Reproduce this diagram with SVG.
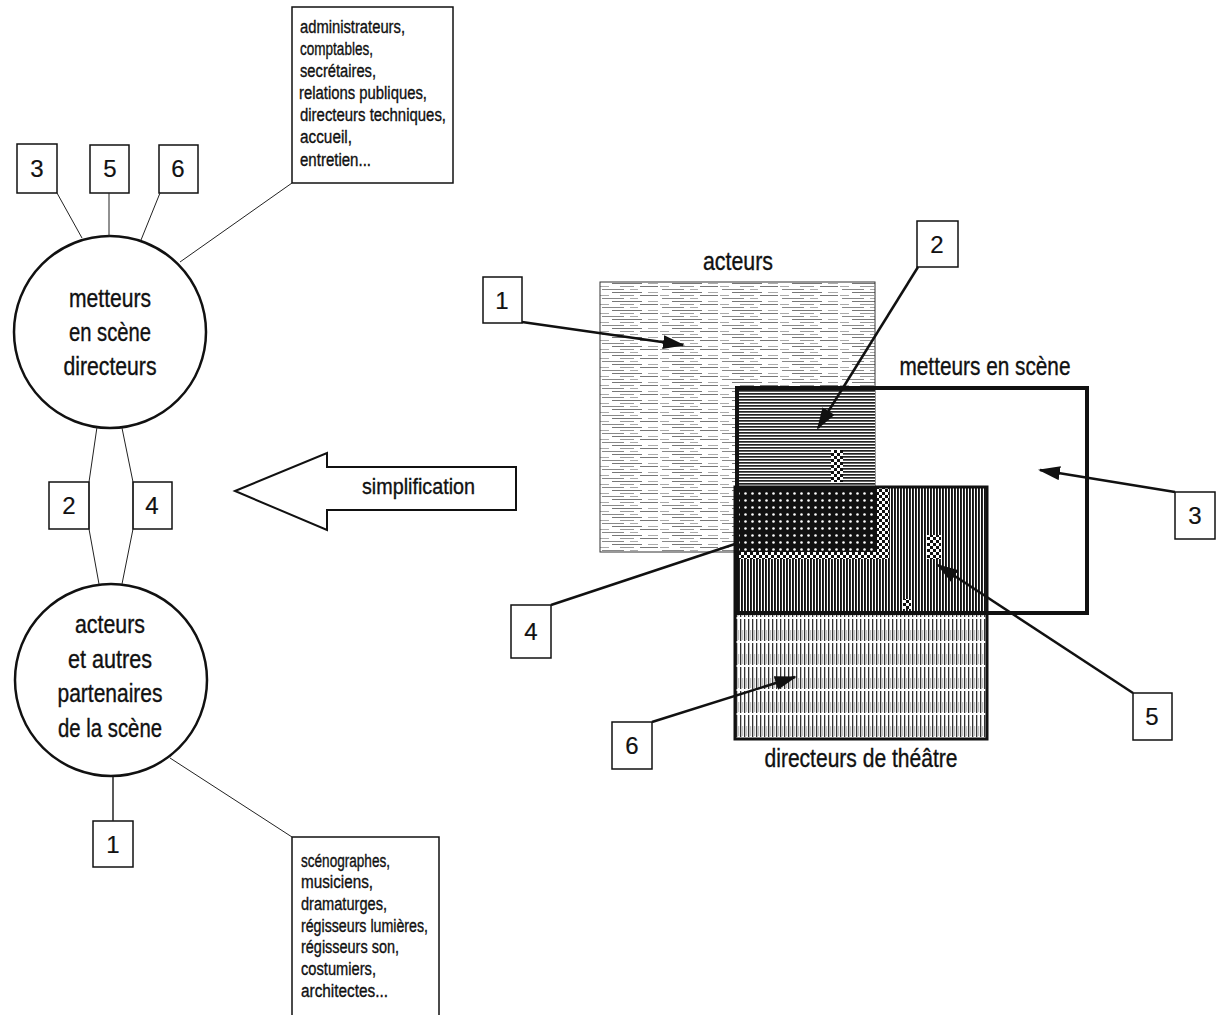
<svg xmlns="http://www.w3.org/2000/svg" width="1224" height="1015" viewBox="0 0 1224 1015">
<style>
  text { font-family: "Liberation Sans", "DejaVu Sans", sans-serif; fill: #111; stroke: #111; stroke-width: 0.35; }
  .big { font-size: 25px; text-anchor: middle; }
  .num { font-size: 24px; text-anchor: middle; stroke-width: 0.2; }
  .small { font-size: 18px; }
  .box { fill: #fff; stroke: #111; stroke-width: 1.5; }
  .circ { fill: #fff; stroke: #111; stroke-width: 2.5; }
  .thin { fill: none; stroke: #222; stroke-width: 1; }
  .arr { fill: none; stroke: #111; stroke-width: 2.5; }
</style>
<defs>
  <marker id="ah" markerUnits="userSpaceOnUse" markerWidth="22" markerHeight="14" refX="20" refY="7" orient="auto">
    <path d="M0,0 L22,7 L0,14 Z" fill="#111"/>
  </marker>
  <pattern id="hLight" patternUnits="userSpaceOnUse" width="60" height="9">
    <rect width="60" height="9" fill="#fff"/>
    <rect x="2" y="1" width="22" height="1" fill="#888"/>
    <rect x="30" y="1" width="8" height="1" fill="#aaa"/>
    <rect x="12" y="4" width="30" height="1" fill="#777"/>
    <rect x="48" y="4" width="10" height="1" fill="#aaa"/>
    <rect x="0" y="7" width="9" height="1" fill="#aaa"/>
    <rect x="20" y="7" width="14" height="1" fill="#999"/>
    <rect x="40" y="7" width="18" height="1" fill="#777"/>
  </pattern>
  <pattern id="hDark" patternUnits="userSpaceOnUse" width="40" height="3">
    <rect width="40" height="3" fill="#fff"/>
    <rect x="0" y="0" width="40" height="1.7" fill="#222"/>
  </pattern>
  <pattern id="dots" patternUnits="userSpaceOnUse" width="7" height="7">
    <rect width="7" height="7" fill="#111"/>
    <circle cx="3.5" cy="3.5" r="1.3" fill="#fff"/>
  </pattern>
  <pattern id="vDark" patternUnits="userSpaceOnUse" width="3" height="20">
    <rect width="3" height="20" fill="#fff"/>
    <rect x="0" y="0" width="1.9" height="20" fill="#111"/>
  </pattern>
  <pattern id="vLight" patternUnits="userSpaceOnUse" width="4" height="24">
    <rect width="4" height="24" fill="#fff"/>
    <rect x="0" y="0" width="1.3" height="17" fill="#333"/>
    <rect x="0" y="19" width="1.3" height="5" fill="#333"/>
    <rect x="2.5" y="6" width="0.6" height="10" fill="#888"/>
  </pattern>
  <pattern id="checker" patternUnits="userSpaceOnUse" width="6" height="6">
    <rect width="6" height="6" fill="#fff"/>
    <rect x="0" y="0" width="3" height="3" fill="#111"/>
    <rect x="3" y="3" width="3" height="3" fill="#111"/>
  </pattern>
</defs>

<!-- Left: circles -->
<g id="node-metteurs">
  <circle class="circ" cx="110" cy="332" r="96"/>
  <text class="big" x="110" y="307" textLength="82" lengthAdjust="spacingAndGlyphs">metteurs</text>
  <text class="big" x="110" y="341" textLength="82" lengthAdjust="spacingAndGlyphs">en scène</text>
  <text class="big" x="110" y="375" textLength="93" lengthAdjust="spacingAndGlyphs">directeurs</text>
</g>
<g id="node-acteurs">
  <circle class="circ" cx="111" cy="680" r="96"/>
  <text class="big" x="110" y="633" textLength="70" lengthAdjust="spacingAndGlyphs">acteurs</text>
  <text class="big" x="110" y="668" textLength="84" lengthAdjust="spacingAndGlyphs">et autres</text>
  <text class="big" x="110" y="702" textLength="105" lengthAdjust="spacingAndGlyphs">partenaires</text>
  <text class="big" x="110" y="737" textLength="104" lengthAdjust="spacingAndGlyphs">de la scène</text>
</g>
<g id="node-L3"><rect class="box" x="17" y="144" width="40" height="49"/><text class="num" x="37" y="177">3</text></g>
<g id="node-L5"><rect class="box" x="90" y="145" width="39" height="48"/><text class="num" x="110" y="177">5</text></g>
<g id="node-L6"><rect class="box" x="159" y="145" width="39" height="48"/><text class="num" x="178" y="177">6</text></g>
<g id="node-L2"><rect class="box" x="49" y="482" width="40" height="47"/><text class="num" x="69" y="514">2</text></g>
<g id="node-L4"><rect class="box" x="133" y="482" width="39" height="47"/><text class="num" x="152" y="514">4</text></g>
<g id="node-L1"><rect class="box" x="93" y="821" width="40" height="46"/><text class="num" x="113" y="853">1</text></g>
<g id="node-admin">
  <rect class="box" x="292" y="7" width="161" height="176"/>
  <text class="small" x="300" y="33" textLength="105" lengthAdjust="spacingAndGlyphs">administrateurs,</text>
  <text class="small" x="300" y="55" textLength="73" lengthAdjust="spacingAndGlyphs">comptables,</text>
  <text class="small" x="300" y="77" textLength="76" lengthAdjust="spacingAndGlyphs">secrétaires,</text>
  <text class="small" x="299" y="99" textLength="128" lengthAdjust="spacingAndGlyphs">relations publiques,</text>
  <text class="small" x="300" y="121" textLength="146" lengthAdjust="spacingAndGlyphs">directeurs techniques,</text>
  <text class="small" x="300" y="143" textLength="52" lengthAdjust="spacingAndGlyphs">accueil,</text>
  <text class="small" x="300" y="166" textLength="71" lengthAdjust="spacingAndGlyphs">entretien...</text>
</g>
<g id="node-partenaires">
  <path d="M292,1015 V837 H439 V1015" fill="#fff" stroke="#111" stroke-width="1.5"/>
  <text class="small" x="301" y="867" textLength="89" lengthAdjust="spacingAndGlyphs">scénographes,</text>
  <text class="small" x="301" y="888" textLength="72" lengthAdjust="spacingAndGlyphs">musiciens,</text>
  <text class="small" x="301" y="910" textLength="86" lengthAdjust="spacingAndGlyphs">dramaturges,</text>
  <text class="small" x="301" y="932" textLength="127" lengthAdjust="spacingAndGlyphs">régisseurs lumières,</text>
  <text class="small" x="301" y="953" textLength="98" lengthAdjust="spacingAndGlyphs">régisseurs son,</text>
  <text class="small" x="301" y="975" textLength="75" lengthAdjust="spacingAndGlyphs">costumiers,</text>
  <text class="small" x="301" y="997" textLength="87" lengthAdjust="spacingAndGlyphs">architectes...</text>
</g>

<!-- simplification arrow -->
<g id="node-simplification">
  <polygon points="235,491 327,453 327,467 516,467 516,510 327,510 327,530" fill="#fff" stroke="#111" stroke-width="2"/>
  <text x="362" y="494" style="font-size:22px" textLength="113" lengthAdjust="spacingAndGlyphs">simplification</text>
</g>

<!-- Right: Venn-like diagram -->
<g id="node-sets">
  <rect x="600" y="282" width="275" height="270" fill="url(#hLight)" stroke="#333" stroke-width="1"/>
  <rect x="735" y="387" width="140" height="100" fill="url(#hDark)"/>
  <rect x="735" y="487" width="252" height="252" fill="url(#vLight)"/>
  <rect x="735" y="487" width="252" height="126" fill="url(#vDark)"/>
  <rect x="735" y="487" width="142" height="65" fill="url(#dots)"/>
  <rect x="877" y="488" width="12" height="70" fill="url(#checker)"/>
  <rect x="738" y="552" width="150" height="7" fill="url(#checker)"/>
  <rect x="927" y="535" width="14" height="24" fill="url(#checker)"/>
  <rect x="831" y="450" width="12" height="32" fill="url(#checker)"/>
  <rect x="903" y="599" width="8" height="10" fill="url(#checker)"/>
  <rect x="735" y="487" width="252" height="252" fill="none" stroke="#111" stroke-width="3"/>
  <rect x="737" y="388" width="350" height="225" fill="none" stroke="#111" stroke-width="4"/>
  <text class="big" x="738" y="270" textLength="70" lengthAdjust="spacingAndGlyphs">acteurs</text>
  <text class="big" x="985" y="375" textLength="171" lengthAdjust="spacingAndGlyphs">metteurs en scène</text>
  <text class="big" x="861" y="767" textLength="193" lengthAdjust="spacingAndGlyphs">directeurs de théâtre</text>
</g>
<g id="node-R1"><rect class="box" x="483" y="277" width="39" height="46"/><text class="num" x="502" y="309">1</text></g>
<g id="node-R2"><rect class="box" x="917" y="221" width="41" height="46"/><text class="num" x="937" y="253">2</text></g>
<g id="node-R3"><rect class="box" x="1175" y="492" width="40" height="47"/><text class="num" x="1195" y="524">3</text></g>
<g id="node-R4"><rect class="box" x="511" y="605" width="40" height="53"/><text class="num" x="531" y="640">4</text></g>
<g id="node-R5"><rect class="box" x="1133" y="693" width="39" height="47"/><text class="num" x="1152" y="725">5</text></g>
<g id="node-R6"><rect class="box" x="612" y="722" width="40" height="47"/><text class="num" x="632" y="754">6</text></g>

<!-- connectors -->
<g id="connectors">
  <line class="thin" x1="57" y1="193" x2="82" y2="238"/>
  <line class="thin" x1="109" y1="193" x2="109" y2="237"/>
  <line class="thin" x1="160" y1="193" x2="141" y2="240"/>
  <line class="thin" x1="292" y1="183" x2="180" y2="262"/>
  <polyline class="thin" points="97,427 89,482 89,529 99,584"/>
  <polyline class="thin" points="122,428 133,482 133,529 122,584"/>
  <line class="thin" x1="113" y1="777" x2="113" y2="821" style="stroke-width:1.5"/>
  <line class="thin" x1="170" y1="758" x2="292" y2="837"/>
  <line class="arr" x1="522" y1="322" x2="683" y2="345" marker-end="url(#ah)"/>
  <line class="arr" x1="918" y1="267" x2="818" y2="428" marker-end="url(#ah)"/>
  <line class="arr" x1="1175" y1="492" x2="1040" y2="470" marker-end="url(#ah)"/>
  <line class="arr" x1="551" y1="605" x2="735" y2="544"/>
  <line class="arr" x1="1133" y1="693" x2="938" y2="565" marker-end="url(#ah)"/>
  <line class="arr" x1="652" y1="722" x2="795" y2="677" marker-end="url(#ah)"/>
</g>
</svg>
